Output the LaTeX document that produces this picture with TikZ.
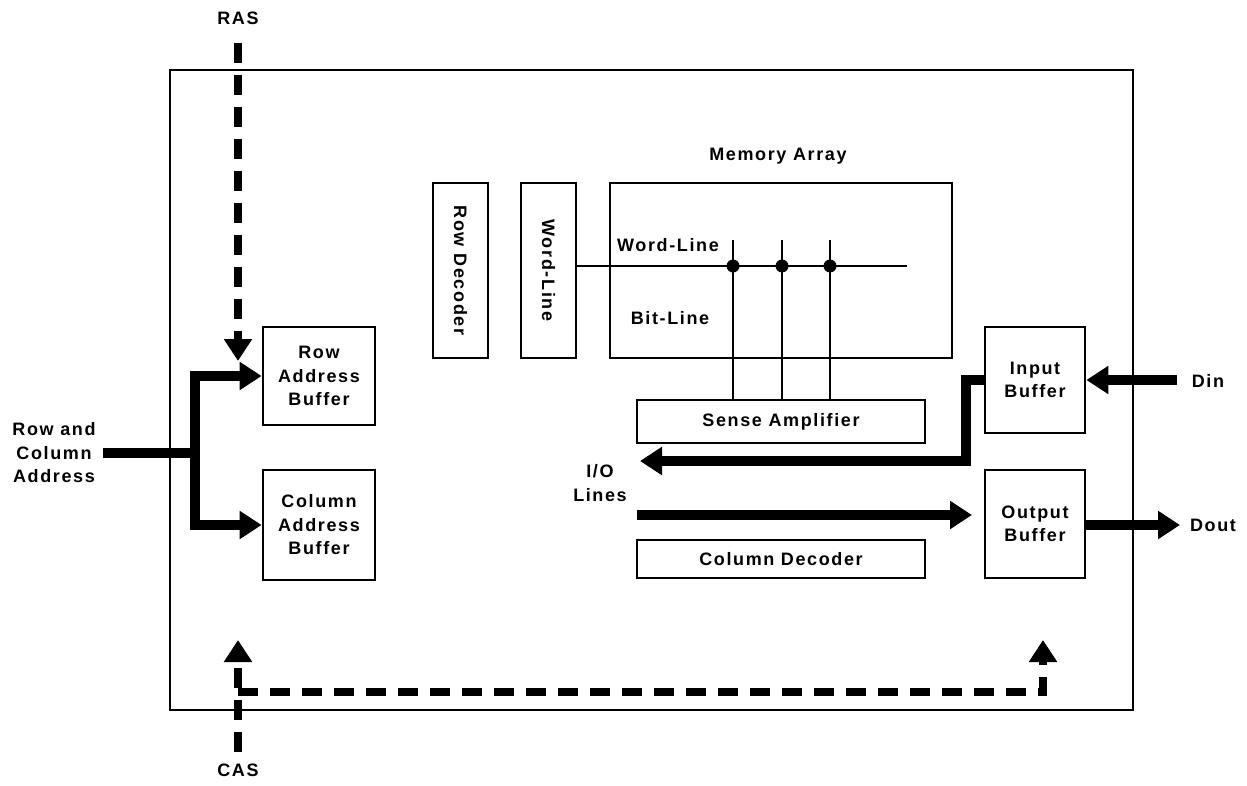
\documentclass[tikz,border=0pt]{standalone}
\usepackage{fontspec}
\setmainfont{Liberation Sans}[LetterSpace=9]
\usetikzlibrary{arrows.meta}
\begin{document}
\begin{tikzpicture}[x=1pt,y=-1pt,
  lbl/.style={font=\fontsize{18}{23.5}\selectfont\bfseries, align=center, inner sep=0pt},
  box/.style={draw, line width=2.8pt, inner sep=0pt, lbl},
  bus/.style={line width=10pt, -{Triangle[length=22pt,width=27pt]}},
  busplain/.style={line width=10pt},
  ctl/.style={line width=8pt, dash pattern=on 20pt off 12pt},
  ctlarrow/.style={ctl, -{Triangle[length=22pt,width=27pt]}},
  thin/.style={line width=2.8pt},
  dotj/.style={circle, fill, inner sep=0pt, minimum size=13pt}]
\useasboundingbox (0,0) rectangle (1247,786);
% outer chip
\draw[line width=2.8pt] (170,70) rectangle (1133,710);
% boxes
\node[box, minimum width=112pt, minimum height=98pt] (rab) at (319,376) {Row\\Address\\Buffer};
\node[box, minimum width=112pt, minimum height=110pt] (cab) at (319,525) {Column\\Address\\Buffer};
\node[box, minimum width=55pt, minimum height=175pt] (rdec) at (460.5,270.5) {};
\node[lbl, rotate=-90] at (rdec.center) {Row Decoder};
\node[box, minimum width=55pt, minimum height=175pt] (wlb) at (548.5,270.5) {};
\node[lbl, rotate=-90] at (wlb.center) {Word-Line};
\node[box, minimum width=342pt, minimum height=175pt] (ma) at (781,270.5) {};
\node[lbl] (matxt) at (778,156) {Memory Array};
\node[box, minimum width=288pt, minimum height=43pt] (sa) at (781,421.5) {Sense Amplifier};
\node[box, minimum width=288pt, minimum height=38pt] (cdec) at (781,559) {Column Decoder};
\node[box, minimum width=100pt, minimum height=106pt] (ib) at (1035,380) {Input\\Buffer};
\node[box, minimum width=100pt, minimum height=108pt] (ob) at (1035,524) {Output\\Buffer};
% memory array internals
\node[lbl] (wltxt) at (668,245) {Word-Line};
\node[lbl] (bltxt) at (670,318) {Bit-Line};
\coordinate (wlend) at (907,266);
\draw[thin] (wlb.east |- 0,266) -- (wlend);
\foreach \bx/\nm in {733/b1,782/b2,830/b3}{
  \coordinate (\nm top) at (\bx,240);
  \draw[thin] (\nm top) -- (\bx,400);
  \node[dotj] (\nm) at (\bx,266) {};
}
% labels outside
\node[lbl] (ras) at (238,18) {RAS};
\node[lbl] (cas) at (238,770) {CAS};
\node[lbl] (rca) at (54,453) {Row and\\Column\\Address};
\node[lbl] (din) at (1208,381) {Din};
\node[lbl] (dout) at (1213,525) {Dout};
\node[lbl] (io) at (600,483) {I/O\\Lines};
% address bus
\coordinate (rcaend) at (103,453);
\coordinate (split) at (195,453);
\draw[busplain] (rcaend) -- (split);
\draw[bus] (195,453) -- (195,376) -- (rab.west);
\draw[bus] (195,453) -- (195,525) -- (cab.west);
% RAS / CAS
\coordinate (rastop) at (238,43);
\draw[ctlarrow] (rastop) -- (238,361);
\coordinate (casbot) at (238,752);
\draw[ctlarrow] (casbot) -- (238,640);
\draw[ctlarrow] (238,692) -- (1043,692) -- (1043,640);
% data paths
\coordinate (dinend) at (1177,380);
\draw[bus] (dinend) -- (ib.east);
\coordinate (doutend) at (1180,525);
\draw[bus] (ob.east |- 0,525) -- (doutend);
\coordinate (ioL) at (640,461);
\draw[bus] (ib.west) -- (966,380) -- (966,461) -- (ioL);
\coordinate (ioR) at (972,515);
\draw[bus] (637,515) -- (ioR);
\end{tikzpicture}
\end{document}
